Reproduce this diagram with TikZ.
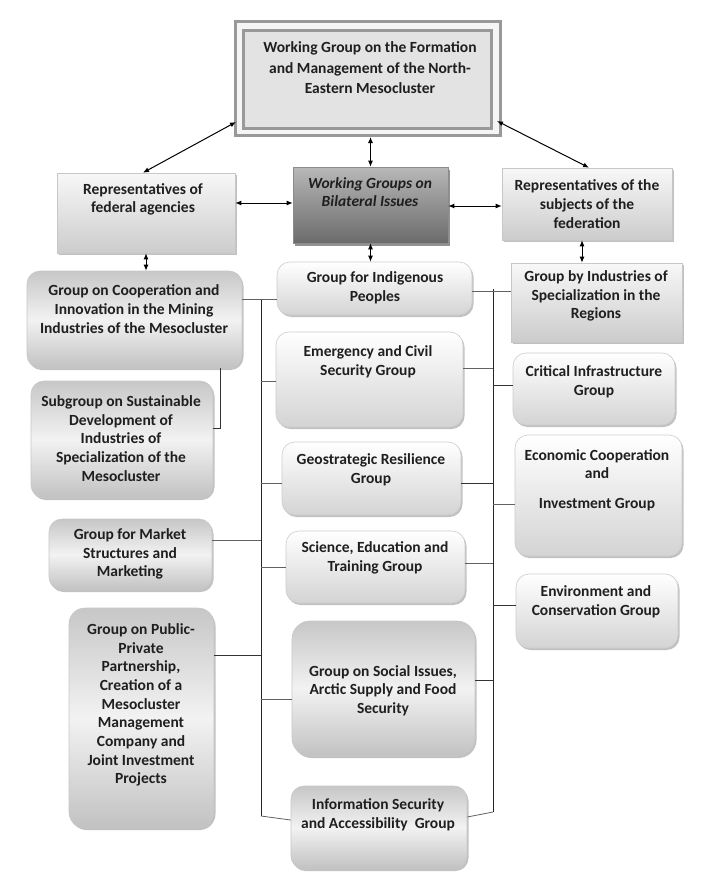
\documentclass[tikz,border=0pt]{standalone}
\usepackage{fontspec}
\setmainfont{Carlito}
\usetikzlibrary{shadows,arrows.meta,calc}
\begin{document}
\begin{tikzpicture}[x=1pt,y=-1pt,
  txt/.style={font=\fontsize{15.5}{18.7}\selectfont\bfseries, align=center, inner sep=0pt, text=black!88},
  shad/.style={drop shadow={shadow xshift=1.5pt,shadow yshift=-2pt,opacity=0.4,fill=black!60}},
  repbox/.style={shad, rectangle, draw=black!22, line width=0.6pt, top color=black!3, bottom color=black!20, inner sep=0pt},
  lbox/.style={shad, rectangle, rounded corners=13pt, draw=black!22, line width=0.6pt, top color=black!22, bottom color=black!24, middle color=black!5, inner sep=0pt},
  mbox/.style={shad, rectangle, rounded corners=13pt, draw=black!20, line width=0.6pt, top color=white, bottom color=black!17, inner sep=0pt},
  wgbox/.style={drop shadow={shadow xshift=2pt,shadow yshift=-2.5pt,opacity=0.6,fill=black!70}, rectangle, draw=black!45, line width=0.6pt, top color=black!28, bottom color=black!58, inner sep=0pt},
  arr/.style={{Latex[length=6pt,width=5pt]}-{Latex[length=6pt,width=5pt]}, line width=1pt, black},
  busline/.style={line width=1pt, black!85},
  conn/.style={line width=0.8pt, black!62}
]
\useasboundingbox (0,0) rectangle (701,888);
\fill[white] (0,0) rectangle (701,888);

% top box
\node[draw=black!40, line width=3pt, fill=black!4, minimum width=265pt, minimum height=114pt, inner sep=0pt] (wgfm) at (368,78.5) {};
\node[draw=black!40, line width=3pt, fill=black!11, minimum width=248pt, minimum height=98pt, inner sep=0pt] (wgfmin) at (367.5,79.5) {};
\node[txt, font=\fontsize{15.5}{20.6}\selectfont\bfseries] (wgfmT) at (370,68) {Working Group on the Formation\\and Management of the North-\\Eastern Mesocluster};

% second row
\node[repbox, minimum width=178pt, minimum height=80pt] (leftrep) at (146,213) {};
\node[txt] (leftrepT) at (143,199.5) {Representatives of\\federal agencies};
\node[wgbox, minimum width=155pt, minimum height=76pt] (wg) at (370.5,205) {};
\node[txt, font=\fontsize{15.5}{18.7}\selectfont\bfseries\itshape] (wgT) at (370,192) {Working Groups on\\Bilateral Issues};
\node[repbox, minimum width=170pt, minimum height=72pt] (rightrep) at (587,204) {};
\node[txt] (rightrepT) at (587,204) {Representatives of the\\subjects of the\\federation};

% left column
\node[lbox, minimum width=215pt, minimum height=97pt] (coop) at (134.5,319.5) {};
\node[txt] (coopT) at (134,309) {Group on Cooperation and\\Innovation in the Mining\\Industries of the Mesocluster};
\node[lbox, minimum width=182pt, minimum height=117pt] (sub) at (122,439.5) {};
\node[txt] (subT) at (121,438.5) {Subgroup on Sustainable\\Development of\\Industries of\\Specialization of the\\Mesocluster};
\node[lbox, minimum width=163pt, minimum height=71pt] (market) at (130.5,554.5) {};
\node[txt] (marketT) at (130,554) {Group for Market\\Structures and\\Marketing};
\node[lbox, rounded corners=16pt, minimum width=145pt, minimum height=220pt] (pub) at (141.5,718) {};
\node[txt] (pubT) at (141,705) {Group on Public-\\Private\\Partnership,\\Creation of a\\Mesocluster\\Management\\Company and\\Joint Investment\\Projects};

% middle column
\node[mbox, minimum width=195pt, minimum height=53pt] (indig) at (374.5,288.5) {};
\node[txt] (indigT) at (375,288) {Group for Indigenous\\Peoples};
\node[mbox, minimum width=187pt, minimum height=95pt] (emerg) at (369.5,379.5) {};
\node[txt] (emergT) at (368,362) {Emergency and Civil\\Security Group};
\node[mbox, minimum width=179pt, minimum height=73pt] (geo) at (371.5,478.5) {};
\node[txt] (geoT) at (371,470) {Geostrategic Resilience\\Group};
\node[mbox, minimum width=179pt, minimum height=72pt] (sci) at (375.5,567) {};
\node[txt] (sciT) at (375,558) {Science, Education and\\Training Group};
\node[lbox, rounded corners=18pt, minimum width=183pt, minimum height=135pt] (soc) at (383.5,688.5) {};
\node[txt] (socT) at (383,690.5) {Group on Social Issues,\\Arctic Supply and Food\\Security};
\node[lbox, minimum width=176pt, minimum height=83pt] (info) at (379,827.5) {};
\node[txt] (infoT) at (378,815) {Information Security\\and Accessibility~ Group};

% right column
\node[repbox, minimum width=171pt, minimum height=79pt] (ind) at (596.5,302.5) {};
\node[txt] (indT) at (596,296) {Group by Industries of\\Specialization in the\\Regions};
\node[mbox, minimum width=162pt, minimum height=72pt] (crit) at (594,389) {};
\node[txt] (critT) at (594,381.5) {Critical Infrastructure\\Group};
\node[mbox, minimum width=167pt, minimum height=121pt] (econ) at (598.5,495.5) {};
\node[txt] (econT) at (597,480) {Economic Cooperation\\and\\[11pt]Investment Group};
\node[mbox, minimum width=162pt, minimum height=74pt] (env) at (597,611) {};
\node[txt] (envT) at (596,601.5) {Environment and\\Conservation Group};

% arrows
\draw[arr] ($(wgfm.south west)+(2,-15)$) -- ($(leftrep.north)+(-3,0)$);
\draw[arr] ($(wgfm.south east)+(-5,-16)$) -- ($(rightrep.north)+(2,0)$);
\draw[arr] (wg.north) -- (wg.north |- wgfm.south);
\draw[arr] (wg.west |- 0,203) -- (leftrep.east |- 0,203);
\draw[arr] (wg.east |- 0,206) -- (rightrep.west |- 0,206);
\draw[arr] (leftrep.south) -- (leftrep.south |- coop.north);
\draw[arr] (wg.south) -- (wg.south |- indig.north);
\draw[arr] ($(rightrep.south)+(-5,0)$) -- ($(rightrep.south |- ind.north)+(-5,0)$);

% buses
\coordinate (bL) at (261,0);
\coordinate (bR) at (493,0);
\draw[busline] (bL |- 0,299) -- (bL |- 0,816);
\draw[busline] (bR |- 0,289) -- (bR |- 0,812);

% left connectors
\draw[conn] (coop.east |- 0,299) -- (indig.west |- 0,299);
\draw[conn] (bL |- 0,381) -- (emerg.west |- 0,381);
\draw[conn] (bL |- 0,483) -- (geo.west |- 0,483);
\draw[conn] (market.east |- 0,540) -- (bL |- 0,540);
\draw[conn] (bL |- 0,567) -- (sci.west |- 0,567);
\draw[conn, black!80] (pub.east |- 0,655) -- (bL |- 0,655);
\draw[conn] (bL |- 0,699) -- (soc.west |- 0,699);
\draw[conn] (bL |- 0,816) -- (info.west |- 0,820);
% right connectors
\draw[conn] (indig.east |- 0,291) -- (ind.west |- 0,291);
\draw[conn] (emerg.east |- 0,368) -- (bR |- 0,368);
\draw[conn, black!80] (bR |- 0,385) -- (crit.west |- 0,385);
\draw[conn, black!80] (geo.east |- 0,483) -- (bR |- 0,483);
\draw[conn] (bR |- 0,504) -- (econ.west |- 0,504);
\draw[conn] (sci.east |- 0,563) -- (bR |- 0,563);
\draw[conn, black!80] (bR |- 0,605) -- (env.west |- 0,605);
\draw[conn, black!80] (soc.east |- 0,680) -- (bR |- 0,680);
\draw[conn] (info.east |- 0,817) -- (bR |- 0,812);
% subgroup link
\draw[conn, black!80] (coop.south -| 220,0) |- (sub.east |- 0,428);
\end{tikzpicture}
\end{document}
